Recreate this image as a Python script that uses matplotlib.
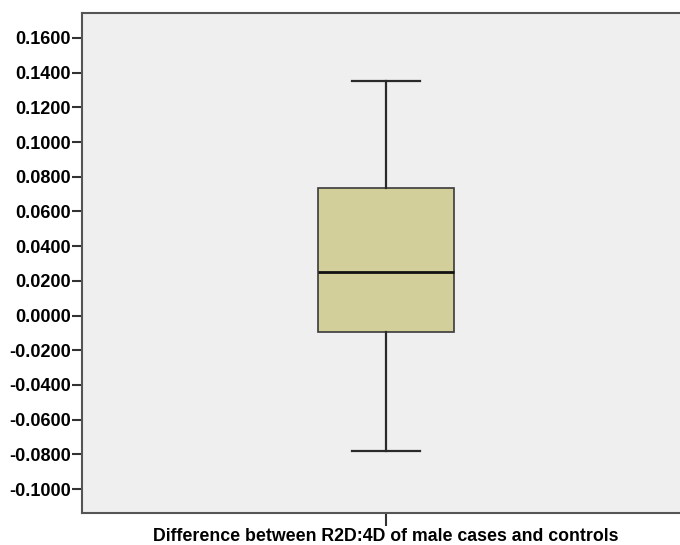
import matplotlib.pyplot as plt
import numpy as np

plt.rcParams['font.family'] = ['Liberation Sans', 'DejaVu Sans']

label = 'Difference between R2D:4D of male cases and controls'
whislo = -0.0782
q1 = -0.0095
med = 0.0252
q3 = 0.0735
whishi = 0.1352
yticks = np.round(np.arange(-0.10, 0.1601, 0.02), 2)

stats = [dict(label=label, whislo=whislo, q1=q1, med=med, q3=q3, whishi=whishi, fliers=[])]

fig = plt.figure(figsize=(6.8, 5.45), dpi=100)
ax = fig.add_axes([82/680, 32/545, 608/680, 500/545])
ax.set_facecolor('#efefef')

ax.bxp(stats, positions=[0], widths=0.45, patch_artist=True, showfliers=False,
       boxprops=dict(facecolor='#d3cf9a', edgecolor='#3a3a3a', linewidth=1.2),
       medianprops=dict(color='#111111', linewidth=2),
       whiskerprops=dict(color='#2a2a2a', linewidth=1.6),
       capprops=dict(color='#2a2a2a', linewidth=1.6),
       capwidths=0.225)

ax.set_xlim(-1, 1)
ax.set_ylim(-0.1138, 0.1744)
ax.set_yticks(yticks)
ax.set_yticklabels(['%.4f' % v for v in yticks], fontsize=13, fontweight='bold')
ax.set_xticks([0])
ax.set_xticklabels([label], fontsize=12.8, fontweight='bold')

for s in ['left', 'bottom', 'top']:
    ax.spines[s].set_color('#555555')
    ax.spines[s].set_linewidth(1.5)
ax.spines['right'].set_visible(False)
ax.tick_params(axis='y', length=7, width=1.5, color='#333333', pad=1)
ax.tick_params(axis='x', length=9, width=1.5, color='#333333', pad=1.5)

fig.savefig('out.png', dpi=100)
